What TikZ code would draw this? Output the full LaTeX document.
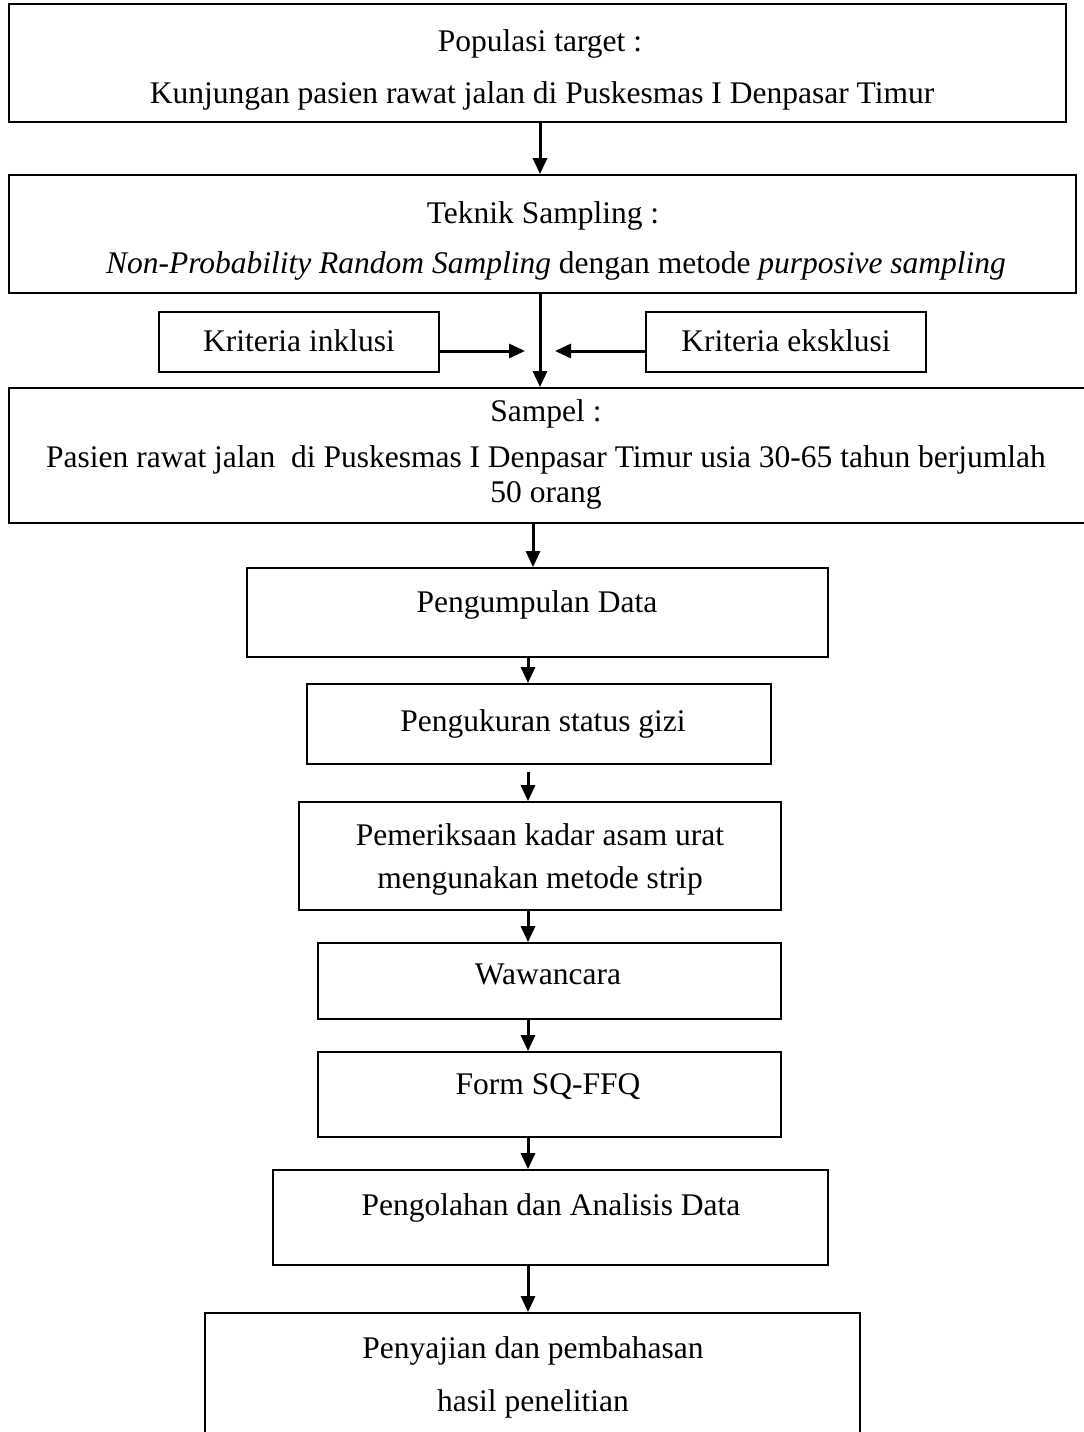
\documentclass[tikz,border=0pt]{standalone}
\usepackage{fontspec}
\setmainfont{Liberation Serif}
\usetikzlibrary{arrows.meta,fit}
\begin{document}
\begin{tikzpicture}[x=1pt,y=-1pt,
  box/.style={draw,line width=1.8pt,inner sep=0pt},
  txt/.style={inner sep=0pt,anchor=base,font=\fontsize{31.5}{37}\selectfont},
  arr/.style={line width=3pt,-{Triangle[length=16pt,width=14pt]}}]
\useasboundingbox (0,0) rectangle (1084,1432);
% boxes
\node[box,fit={(9,4) (1066,122)}] (b1) {};
\node[box,fit={(9,175) (1076,293)}] (b2) {};
\node[box,fit={(159,312) (439,372)}] (inkl) {};
\node[box,fit={(646,312) (926,372)}] (eks) {};
\node[box,fit={(9,388) (1095,523)}] (b3) {};
\node[box,fit={(247,568) (828,657)}] (pd) {};
\node[box,fit={(307,684) (771,764)}] (psg) {};
\node[box,fit={(299,802) (781,910)}] (pem) {};
\node[box,fit={(318,943) (781,1019)}] (waw) {};
\node[box,fit={(318,1052) (781,1137)}] (ffq) {};
\node[box,fit={(273,1170) (828,1265)}] (olah) {};
\node[box,fit={(205,1313) (860,1445)}] (saji) {};
% texts
\node[txt] (t1a) at (540,51) {Populasi target :};
\node[txt] (t1b) at (542,103) {Kunjungan pasien rawat jalan di Puskesmas I Denpasar Timur};
\node[txt] (t2a) at (543,223) {Teknik Sampling :};
\node[txt] (t2b) at (556,273) {\textit{Non-Probability Random Sampling} dengan metode \textit{purposive sampling}};
\node[txt] (tin) at (299,351) {Kriteria inklusi};
\node[txt] (tek) at (786,351) {Kriteria eksklusi};
\node[txt] (t3a) at (546,421) {Sampel :};
\node[txt] (t3b) at (546,467) {Pasien rawat jalan\ \ di Puskesmas I Denpasar Timur usia 30-65 tahun berjumlah};
\node[txt] (t3c) at (546,502) {50 orang};
\node[txt] (tpd) at (537,612) {Pengumpulan Data};
\node[txt] (tpsg) at (543,731) {Pengukuran status gizi};
\node[txt] (tpem1) at (540,845) {Pemeriksaan kadar asam urat};
\node[txt] (tpem2) at (540,888) {mengunakan metode strip};
\node[txt] (twaw) at (548,984) {Wawancara};
\node[txt] (tffq) at (548,1094) {Form SQ-FFQ};
\node[txt] (tolah) at (551,1215) {Pengolahan dan Analisis Data};
\node[txt] (tsaji1) at (533,1358) {Penyajian dan pembahasan};
\node[txt] (tsaji2) at (533,1411) {hasil penelitian};
% arrow columns
\coordinate (c1) at (540,0);
\coordinate (c3) at (533,0);
\coordinate (c4) at (528,0);
\coordinate (jl) at (525,0);
\coordinate (jr) at (555,0);
\coordinate (ay) at (0,351);
% connectors
\draw[arr] (b1.south -| c1) -- (b2.north -| c1);
\draw[arr] (b2.south -| c1) -- (b3.north -| c1);
\draw[arr] (inkl.east |- ay) -- (jl |- ay);
\draw[arr] (eks.west |- ay) -- (jr |- ay);
\draw[arr] (b3.south -| c3) -- (pd.north -| c3);
\draw[arr] (pd.south -| c4) -- (psg.north -| c4);
\draw[arr] ([yshift=-7pt]psg.south -| c4) -- (pem.north -| c4);
\draw[arr] (pem.south -| c4) -- (waw.north -| c4);
\draw[arr] (waw.south -| c4) -- (ffq.north -| c4);
\draw[arr] (ffq.south -| c4) -- (olah.north -| c4);
\draw[arr] (olah.south -| c4) -- (saji.north -| c4);
\end{tikzpicture}
\end{document}
